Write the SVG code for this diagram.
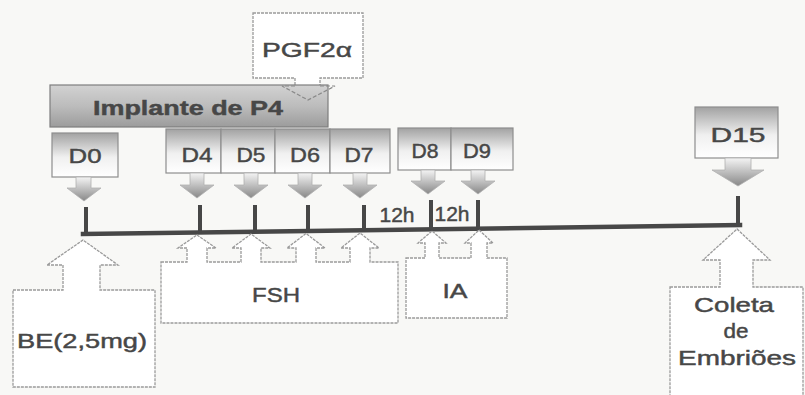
<svg xmlns="http://www.w3.org/2000/svg" width="805" height="395" viewBox="0 0 805 395">
  <defs>
    <linearGradient id="boxGrad" x1="0" y1="0" x2="0" y2="1">
      <stop offset="0" stop-color="#a2a2a2"/>
      <stop offset="0.55" stop-color="#f0f0f0"/>
      <stop offset="1" stop-color="#ffffff"/>
    </linearGradient>
    <linearGradient id="arrowGrad" x1="0" y1="0" x2="0" y2="1">
      <stop offset="0" stop-color="#f4f4f4"/>
      <stop offset="1" stop-color="#888888"/>
    </linearGradient>
    <linearGradient id="barGrad" x1="0" y1="0" x2="0" y2="1">
      <stop offset="0" stop-color="#d2d2d2"/>
      <stop offset="0.5" stop-color="#bcbcbc"/>
      <stop offset="1" stop-color="#9c9c9c"/>
    </linearGradient>
    <style>
      .box { fill: url(#boxGrad); stroke: #8e8e8e; stroke-width: 1.2; }
      .darr { fill: url(#arrowGrad); stroke: #b0b0b0; stroke-width: 0.8; }
      .up { fill: #ffffff; stroke: #9a9a9a; stroke-width: 1.3; stroke-dasharray: 3 1; }
      .plain { fill: #ffffff; stroke: #9a9a9a; stroke-width: 1.3; stroke-dasharray: 3 1; }
      .t { font-family: "Liberation Sans", Arial, sans-serif; fill: #474747; stroke: #474747; stroke-width: 0.45; text-anchor: middle; font-size: 21px; }
      .tick { stroke: #474747; stroke-width: 4; fill: none; }
      .line { stroke: #474747; stroke-width: 4.5; fill: none; stroke-linecap: square; }
    </style>
  </defs>
  <rect x="0" y="0" width="805" height="395" fill="#f8f8f6"/>

  <g id="pgf2a">
    <path class="plain" d="M253,13 H363 V78 H320 V86 H295 V78 H253 Z"/>
    <text class="t" x="307" y="57" font-size="24" textLength="90" lengthAdjust="spacingAndGlyphs">PGF2α</text>
  </g>

  <g id="implante-p4">
    <rect x="50" y="85" width="278" height="42" fill="url(#barGrad)" stroke="#7e7e7e" stroke-width="1.2"/>
    <text class="t" x="188" y="115" font-size="23" font-weight="bold" stroke-width="0.2" textLength="190" lengthAdjust="spacingAndGlyphs">Implante de P4</text>
    <polyline points="295,86 282,86 308,100 335,86 320,86" fill="none" stroke="#8a8a8a" stroke-width="1.2" stroke-dasharray="4 2"/>
  </g>

  <g id="d0">
    <rect class="box" x="52" y="133" width="66" height="44"/>
    <polygon class="darr" points="76,177 91,177 91,188 101,188 84,201 67,188 76,188"/>
    <text class="t" x="85" y="163" textLength="33" lengthAdjust="spacingAndGlyphs">D0</text>
  </g>

  <g id="d4">
    <rect class="box" x="166" y="129" width="55" height="44"/>
    <polygon class="darr" points="190,173 204,173 204,185 214,185 197,198 180,185 190,185"/>
    <text class="t" x="197" y="162" textLength="31" lengthAdjust="spacingAndGlyphs">D4</text>
  </g>
  <g id="d5">
    <rect class="box" x="221" y="129" width="54" height="44"/>
    <polygon class="darr" points="244,173 258,173 258,185 268,185 251,198 234,185 244,185"/>
    <text class="t" x="251" y="162" textLength="29" lengthAdjust="spacingAndGlyphs">D5</text>
  </g>
  <g id="d6">
    <rect class="box" x="275" y="129" width="55" height="44"/>
    <polygon class="darr" points="298,173 312,173 312,185 322,185 305,198 288,185 298,185"/>
    <text class="t" x="305" y="162" textLength="30" lengthAdjust="spacingAndGlyphs">D6</text>
  </g>
  <g id="d7">
    <rect class="box" x="330" y="129" width="60" height="44"/>
    <polygon class="darr" points="353,173 367,173 367,185 377,185 360,198 343,185 353,185"/>
    <text class="t" x="359" y="162" textLength="29" lengthAdjust="spacingAndGlyphs">D7</text>
  </g>

  <g id="d8">
    <rect class="box" x="398" y="128" width="53" height="42"/>
    <polygon class="darr" points="421,170 435,170 435,181 445,181 428,194 411,181 421,181"/>
    <text class="t" x="425" y="158" textLength="27" lengthAdjust="spacingAndGlyphs">D8</text>
  </g>
  <g id="d9">
    <rect class="box" x="451" y="128" width="62" height="42"/>
    <polygon class="darr" points="471,170 485,170 485,181 495,181 478,194 461,181 471,181"/>
    <text class="t" x="477" y="158" textLength="28" lengthAdjust="spacingAndGlyphs">D9</text>
  </g>

  <g id="d15">
    <rect class="box" x="695" y="107" width="83" height="51"/>
    <polygon class="darr" points="725,158 751,158 751,170 764,170 738,186 712,170 725,170"/>
    <text class="t" x="738" y="142" textLength="55" lengthAdjust="spacingAndGlyphs">D15</text>
  </g>

  <g id="connectors">
    <line class="line" x1="83" y1="234" x2="740" y2="225"/>
    <line class="tick" x1="86" y1="207" x2="86" y2="234"/>
    <line class="tick" x1="200" y1="205" x2="200" y2="232.5"/>
    <line class="tick" x1="255" y1="205" x2="255" y2="231.7"/>
    <line class="tick" x1="308" y1="205" x2="308" y2="231"/>
    <line class="tick" x1="364" y1="205" x2="364" y2="230.3"/>
    <line class="tick" x1="431" y1="200" x2="431" y2="229.3"/>
    <line class="tick" x1="478" y1="200" x2="478" y2="228.7"/>
    <line class="tick" x1="738" y1="196" x2="738" y2="225.2"/>
    <text class="t" x="397" y="222" font-size="18">12h</text>
    <text class="t" x="452" y="221" font-size="18">12h</text>
  </g>

  <g id="be">
    <path class="up" d="M13,290 H63 V265 H47 L83,240 L118,265 H100 V290 H155 V387 H13 Z"/>
    <text class="t" x="82" y="348" font-size="22" textLength="130" lengthAdjust="spacingAndGlyphs">BE(2,5mg)</text>
  </g>

  <g id="fsh">
    <path class="up" d="M161,262 H187 V248 H178 L197,235 L216,248 H207 V262 H241 V248 H232 L251,234 L270,248 H261 V262 H296 V248 H287 L306,233.5 L325,248 H316 V262 H350 V248 H341 L360,233 L379,248 H370 V262 H398 V323 H161 Z"/>
    <text class="t" x="276" y="302" textLength="48" lengthAdjust="spacingAndGlyphs">FSH</text>
  </g>

  <g id="ia">
    <path class="up" d="M406,258 H425 V243 H418 L432,231 L446,243 H439 V258 H471 V243 H465 L479,230 L493,243 H487 V258 H507 V318 H406 Z"/>
    <text class="t" x="455" y="298" textLength="25" lengthAdjust="spacingAndGlyphs">IA</text>
  </g>

  <g id="coleta">
    <path class="up" d="M670,287 H720 V260 H703 L737,229 L770,260 H753 V287 H803 V398 H670 Z"/>
    <text class="t" x="734" y="312" textLength="80" lengthAdjust="spacingAndGlyphs">Coleta</text>
    <text class="t" x="736" y="338" textLength="25" lengthAdjust="spacingAndGlyphs">de</text>
    <text class="t" x="737" y="365" textLength="118" lengthAdjust="spacingAndGlyphs">Embriões</text>
  </g>
</svg>
